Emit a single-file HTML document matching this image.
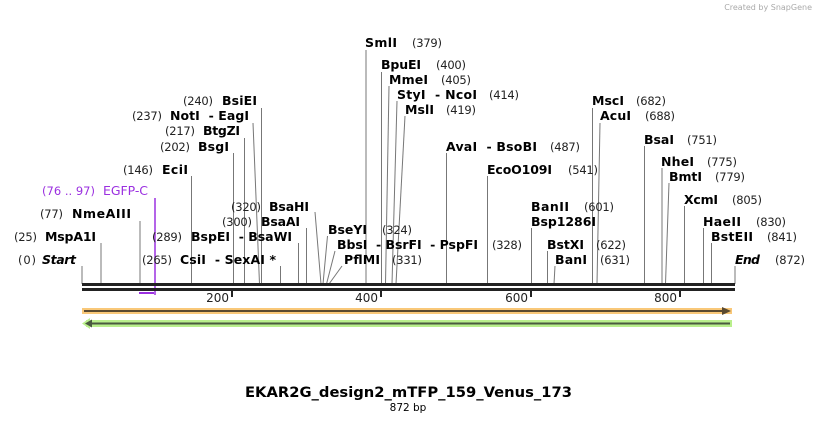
<!DOCTYPE html>
<html><head><meta charset="utf-8"><style>
body{margin:0;background:#fff}
svg{display:block}
text{white-space:pre}
.n{font:bold 12.5px "DejaVu Sans","Liberation Sans",sans-serif;fill:#000}
.p{font:11.5px "DejaVu Sans","Liberation Sans",sans-serif;fill:#222}
.i{font:italic bold 12.5px "DejaVu Sans","Liberation Sans",sans-serif;fill:#000}
line{stroke:#777;stroke-width:1}
</style></head><body>
<svg width="818" height="423" viewBox="0 0 818 423" xmlns="http://www.w3.org/2000/svg">
<text x="812" y="10" text-anchor="end" style="font:8px 'DejaVu Sans',sans-serif;fill:#aaa">Created by SnapGene</text>
<g>
<line x1="82" y1="266" x2="82" y2="284"/>
<line x1="101" y1="243" x2="101" y2="284"/>
<line x1="140" y1="221" x2="140" y2="284"/>
<line x1="191.5" y1="176" x2="191.5" y2="284"/>
<line x1="233.5" y1="153" x2="233.5" y2="284"/>
<line x1="244.5" y1="138" x2="244.5" y2="284"/>
<line x1="253" y1="123" x2="259.5" y2="284"/>
<line x1="261.5" y1="108" x2="261.5" y2="284"/>
<line x1="280.5" y1="266" x2="280.5" y2="284"/>
<line x1="298.5" y1="243" x2="298.5" y2="284"/>
<line x1="306.5" y1="228" x2="306.5" y2="284"/>
<line x1="315" y1="212" x2="321" y2="284"/>
<line x1="327.5" y1="236" x2="323" y2="284"/>
<line x1="335" y1="251" x2="326.5" y2="284"/>
<line x1="342" y1="266" x2="329" y2="284"/>
<line x1="366" y1="50" x2="366" y2="284"/>
<line x1="381.5" y1="72" x2="381.5" y2="284"/>
<line x1="389" y1="86" x2="385.5" y2="284"/>
<line x1="397" y1="101" x2="392" y2="284"/>
<line x1="405" y1="116" x2="396" y2="284"/>
<line x1="446.5" y1="153" x2="446.5" y2="284"/>
<line x1="487.5" y1="176" x2="487.5" y2="284"/>
<line x1="531.5" y1="228" x2="531.5" y2="284"/>
<line x1="547.5" y1="251" x2="547.5" y2="284"/>
<line x1="555" y1="266" x2="554" y2="284"/>
<line x1="592.5" y1="108" x2="592.5" y2="284"/>
<line x1="600" y1="123" x2="597" y2="284"/>
<line x1="644.5" y1="146" x2="644.5" y2="284"/>
<line x1="662" y1="168" x2="662" y2="284"/>
<line x1="669" y1="183" x2="665.5" y2="284"/>
<line x1="684.5" y1="206" x2="684.5" y2="284"/>
<line x1="703.5" y1="228" x2="703.5" y2="284"/>
<line x1="711.5" y1="243" x2="711.5" y2="284"/>
<line x1="735" y1="266" x2="735" y2="284"/>
</g>
<line x1="155" y1="198" x2="155" y2="295" style="stroke:#9b30e0;stroke-width:1.5"/>
<rect x="139" y="292" width="15" height="2" fill="#9b30e0"/>
<rect x="82" y="283" width="653" height="3" fill="#222"/>
<rect x="82" y="288" width="653" height="3" fill="#222"/>
<g fill="#222">
<rect x="231" y="291" width="2" height="6"/><rect x="380" y="291" width="2" height="6"/>
<rect x="530" y="291" width="2" height="6"/><rect x="679" y="291" width="2" height="6"/>
</g>
<g class="p" style="font-size:12px" text-anchor="end">
<text x="229" y="302">200</text><text x="378" y="302">400</text><text x="528" y="302">600</text><text x="677" y="302">800</text>
</g>
<rect x="82" y="308" width="650" height="6" fill="#f9c879"/>
<line x1="84" y1="311" x2="724" y2="311" style="stroke:#5a4a30;stroke-width:2"/>
<polygon points="722,307 731,311 722,315" fill="#5a4a30"/>
<rect x="86" y="320" width="646" height="7" fill="#b9ef8c"/>
<polygon points="82,323.5 90,318 90,329" fill="#b9ef8c"/>
<line x1="88" y1="323.5" x2="730" y2="323.5" style="stroke:#4a5a40;stroke-width:2"/>
<polygon points="85,323.5 92,319.5 92,327.5" fill="#4a5a40"/>
<g lengthAdjust="spacingAndGlyphs">
<text class="p" x="18" y="264" textLength="18">(0)</text><text class="i" x="42" y="264" textLength="34">Start</text>
<text class="p" x="14" y="241" textLength="23">(25)</text><text class="n" x="45" y="241" textLength="51">MspA1I</text>
<text class="p" x="40" y="218" textLength="23">(77)</text><text class="n" x="72" y="218" textLength="59">NmeAIII</text>
<text class="p" x="42" y="195" textLength="53" style="fill:#9b30e0">(76 .. 97)</text><text class="p" x="103" y="195" textLength="45" style="fill:#9b30e0;font-size:12.5px">EGFP-C</text>
<text class="p" x="123" y="174" textLength="30">(146)</text><text class="n" x="162" y="174" textLength="26">EciI</text>
<text class="p" x="160" y="151" textLength="30">(202)</text><text class="n" x="198" y="151" textLength="31">BsgI</text>
<text class="p" x="165" y="135" textLength="30">(217)</text><text class="n" x="203" y="135" textLength="37">BtgZI</text>
<text class="p" x="132" y="120" textLength="30">(237)</text><text class="n" x="170" y="120" textLength="79">NotI  - EagI</text>
<text class="p" x="183" y="105" textLength="30">(240)</text><text class="n" x="222" y="105" textLength="35">BsiEI</text>
<text class="p" x="142" y="264" textLength="30">(265)</text><text class="n" x="180" y="264" textLength="96">CsiI  - SexAI *</text>
<text class="p" x="152" y="241" textLength="30">(289)</text><text class="n" x="191" y="241" textLength="101">BspEI  - BsaWI</text>
<text class="p" x="222" y="226" textLength="30">(300)</text><text class="n" x="261" y="226" textLength="39">BsaAI</text>
<text class="p" x="231" y="211" textLength="30">(320)</text><text class="n" x="269" y="211" textLength="40">BsaHI</text>
<text class="n" x="328" y="234" textLength="39">BseYI</text><text class="p" x="382" y="234" textLength="30">(324)</text>
<text class="n" x="337" y="249" textLength="141">BbsI  - BsrFI  - PspFI</text><text class="p" x="492" y="249" textLength="30">(328)</text>
<text class="n" x="344" y="264" textLength="36">PflMI</text><text class="p" x="392" y="264" textLength="30">(331)</text>
<text class="n" x="365" y="47" textLength="32">SmlI</text><text class="p" x="412" y="47" textLength="30">(379)</text>
<text class="n" x="381" y="69" textLength="40">BpuEI</text><text class="p" x="436" y="69" textLength="30">(400)</text>
<text class="n" x="389" y="84" textLength="39">MmeI</text><text class="p" x="441" y="84" textLength="30">(405)</text>
<text class="n" x="397" y="99" textLength="80">StyI  - NcoI</text><text class="p" x="489" y="99" textLength="30">(414)</text>
<text class="n" x="405" y="114" textLength="29">MslI</text><text class="p" x="446" y="114" textLength="30">(419)</text>
<text class="n" x="446" y="151" textLength="91">AvaI  - BsoBI</text><text class="p" x="550" y="151" textLength="30">(487)</text>
<text class="n" x="487" y="174" textLength="65">EcoO109I</text><text class="p" x="568" y="174" textLength="30">(541)</text>
<text class="n" x="531" y="211" textLength="38">BanII</text><text class="p" x="584" y="211" textLength="30">(601)</text>
<text class="n" x="531" y="226" textLength="65">Bsp1286I</text>
<text class="n" x="547" y="249" textLength="37">BstXI</text><text class="p" x="596" y="249" textLength="30">(622)</text>
<text class="n" x="555" y="264" textLength="32">BanI</text><text class="p" x="600" y="264" textLength="30">(631)</text>
<text class="n" x="592" y="105" textLength="32">MscI</text><text class="p" x="636" y="105" textLength="30">(682)</text>
<text class="n" x="600" y="120" textLength="31">AcuI</text><text class="p" x="645" y="120" textLength="30">(688)</text>
<text class="n" x="644" y="144" textLength="30">BsaI</text><text class="p" x="687" y="144" textLength="30">(751)</text>
<text class="n" x="661" y="166" textLength="33">NheI</text><text class="p" x="707" y="166" textLength="30">(775)</text>
<text class="n" x="669" y="181" textLength="33">BmtI</text><text class="p" x="715" y="181" textLength="30">(779)</text>
<text class="n" x="684" y="204" textLength="34">XcmI</text><text class="p" x="732" y="204" textLength="30">(805)</text>
<text class="n" x="703" y="226" textLength="38">HaeII</text><text class="p" x="756" y="226" textLength="30">(830)</text>
<text class="n" x="711" y="241" textLength="42">BstEII</text><text class="p" x="767" y="241" textLength="30">(841)</text>
<text class="i" x="735" y="264" textLength="25">End</text><text class="p" x="775" y="264" textLength="30">(872)</text>
</g>
<text x="245" y="397" textLength="327" lengthAdjust="spacingAndGlyphs" style="font:bold 14.5px 'DejaVu Sans','Liberation Sans',sans-serif;fill:#000">EKAR2G_design2_mTFP_159_Venus_173</text>
<text x="408" y="411" text-anchor="middle" style="font:10.5px 'DejaVu Sans','Liberation Sans',sans-serif;fill:#000">872 bp</text>
</svg>
</body></html>
